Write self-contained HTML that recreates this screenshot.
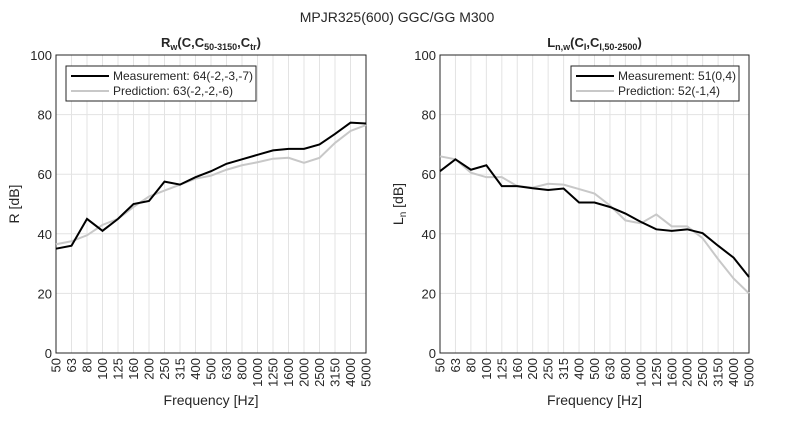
<!DOCTYPE html>
<html><head><meta charset="utf-8"><style>
body{margin:0;background:#fff;font-family:"Liberation Sans",sans-serif}
svg text{font-family:"Liberation Sans",sans-serif;fill:#262626}
</style></head><body>
<svg id="s" width="794" height="416">
<rect width="794" height="416" fill="#fff"/>
<text x="397" y="22" text-anchor="middle" font-size="14">MPJR325(600) GGC/GG M300</text>
</svg>
<script>
const categories=["50","63","80","100","125","160","200","250","315","400","500","630","800","1000","1250","1600","2000","2500","3150","4000","5000"];
const yTicks=[0,20,40,60,80,100];
const rMeas=[35,36,45,41,45,50,51,57.5,56.5,59,61,63.5,65,66.5,68,68.5,68.5,70,73.5,77.3,77];
const rPred=[36.5,37.5,39.5,43,45,49,52.5,54.5,56.5,58.5,59.5,61.5,63,64,65.2,65.5,63.8,65.5,70.5,74.5,76.5];
const lMeas=[61,65,61.5,63,56,56,55.3,54.7,55.2,50.5,50.5,49,46.8,44,41.5,41,41.5,40.2,36,32,25.5];
const lPred=[66,65,60.5,59,59,56,55.5,56.8,56.5,55,53.5,49.5,44.5,43.5,46.5,42.5,42.5,38.5,31.5,25,20];
const NS="http://www.w3.org/2000/svg",svg=document.getElementById('s');
function el(t,a,p){const e=document.createElementNS(NS,t);for(const k in a)e.setAttribute(k,a[k]);(p||svg).appendChild(e);return e;}
function panel(x0,x1,key,titleHTML,ylab,ylabSub,meas,pred,leg,lx,lw){
 const y0=55,y1=353;
 const g=el('g',{});
 
 
 const X=i=>x0+(x1-x0)*i/(categories.length-1), Y=v=>y1-(y1-y0)*v/100;
 categories.forEach((c,i)=>{
  const l=el('line',{x1:X(i),x2:X(i),y1:y0,y2:y1,stroke:'#e3e3e3','stroke-width':1},g);
  
  
  const t=el('text',{x:0,y:0,'font-size':13,'text-anchor':'end',transform:`translate(${X(i)+4.5},${y1+5}) rotate(-90)`},g);
  t.textContent=c;
  
  
 });
 yTicks.forEach(v=>{
  const l=el('line',{x1:x0,x2:x1,y1:Y(v),y2:Y(v),stroke:'#e3e3e3','stroke-width':1},g);
  
  
  const t=el('text',{x:x0-4,y:Y(v)+5,'font-size':13,'text-anchor':'end'},g);
  t.textContent=v;
  
  
 });
 const b=el('rect',{x:x0,y:y0,width:x1-x0,height:y1-y0,fill:'none',stroke:'#262626','stroke-width':1},g);
 
 
 const pp=el('polyline',{points:pred.map((v,i)=>X(i)+','+Y(v)).join(' '),fill:'none',stroke:'#c8c8c8','stroke-width':2},g);
 
 
 const pm=el('polyline',{points:meas.map((v,i)=>X(i)+','+Y(v)).join(' '),fill:'none',stroke:'#000','stroke-width':2},g);
 
 
 const tt=el('text',{x:(x0+x1)/2,y:47,'font-size':13,'font-weight':'bold','text-anchor':'middle'},g);
 tt.innerHTML=titleHTML;
 
 
 const yl=el('text',{x:0,y:0,'font-size':14,'text-anchor':'middle',transform:`translate(${x0-37},${(y0+y1)/2}) rotate(-90)`},g);
 yl.innerHTML=ylab+(ylabSub?`<tspan font-size="10" dy="3">${ylabSub}</tspan><tspan dy="-3"> [dB]</tspan>`:'');
 
 
 const xl=el('text',{x:(x0+x1)/2,y:405,'font-size':14,'text-anchor':'middle'},g);
 xl.textContent='Frequency [Hz]';
 
 
 const lg=el('g',{},g);
 
 
 el('rect',{x:lx,y:66,width:lw,height:35,fill:'#fff',stroke:'#262626','stroke-width':1},lg);
 el('line',{x1:lx+5,x2:lx+43,y1:76,y2:76,stroke:'#000','stroke-width':2},lg);
 el('line',{x1:lx+5,x2:lx+43,y1:91,y2:91,stroke:'#c8c8c8','stroke-width':2},lg);
 const t1=el('text',{x:lx+47,y:80,'font-size':12},lg);t1.textContent=leg[0];
 
 
 const t2=el('text',{x:lx+47,y:95,'font-size':12},lg);t2.textContent=leg[1];
 
 
}
panel(56,366,'r','R<tspan font-size="9" dy="3">w</tspan><tspan dy="-3">(C,C</tspan><tspan font-size="9" dy="3">50-3150</tspan><tspan dy="-3">,C</tspan><tspan font-size="9" dy="3">tr</tspan><tspan dy="-3">)</tspan>','R [dB]','',rMeas,rPred,['Measurement: 64(-2,-3,-7)','Prediction: 63(-2,-2,-6)'],66,190);
panel(440,749,'ln','L<tspan font-size="9" dy="3">n,w</tspan><tspan dy="-3">(C</tspan><tspan font-size="9" dy="3">I</tspan><tspan dy="-3">,C</tspan><tspan font-size="9" dy="3">I,50-2500</tspan><tspan dy="-3">)</tspan>','L','n',lMeas,lPred,['Measurement: 51(0,4)','Prediction: 52(-1,4)'],571,168);
</script>
</body></html>
